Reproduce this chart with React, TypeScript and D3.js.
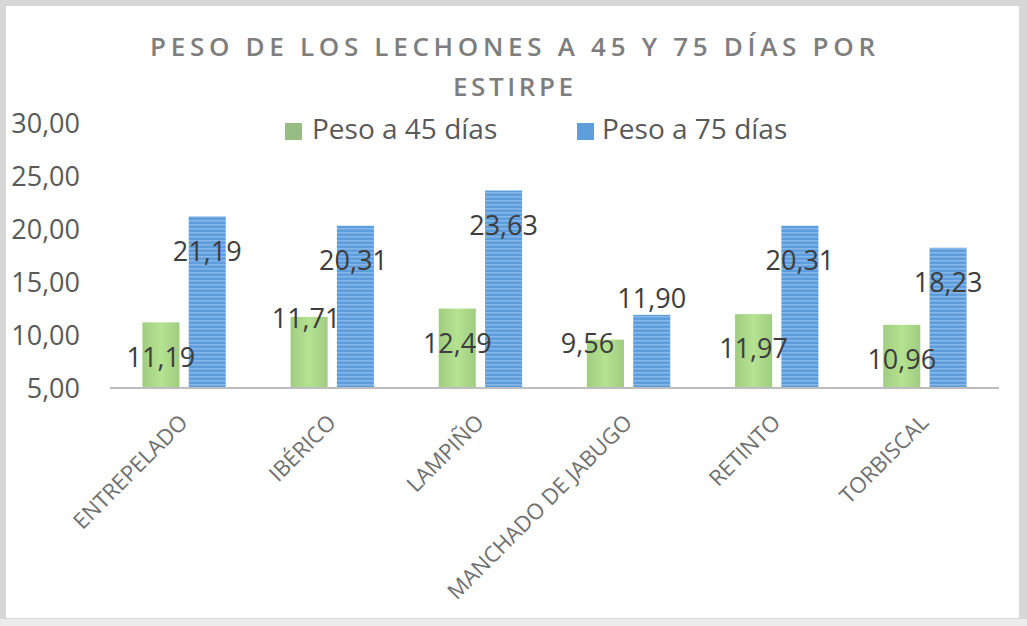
import React from "react";
import * as d3 from "d3";

const categories = ["ENTREPELADO", "IBÉRICO", "LAMPIÑO", "MANCHADO DE JABUGO", "RETINTO", "TORBISCAL"];
const peso45 = [11.19, 11.71, 12.49, 9.56, 11.97, 10.96];
const peso75 = [21.19, 20.31, 23.63, 11.9, 20.31, 18.23];
const seriesNames = ["Peso a 45 días", "Peso a 75 días"];
const yTicks = [5, 10, 15, 20, 25, 30];
const titleLines = ["PESO DE LOS LECHONES A 45 Y 75 DÍAS POR", "ESTIRPE"];

// layout-only nudges for the hand-placed data labels (px)
const nudge45: [number, number][] = [[0, 0], [-3, -33], [0, 0], [-18, -31], [0, 0], [0, 0]];
const nudge75: [number, number][] = [[0, 0], [-2, 0], [0, 0], [0, -51], [0, 0], [0, 0]];

const W = 1027;
const H = 626;
const FONT = "'Open Sans', 'Noto Sans', sans-serif";

export default function App() {
  const x = d3.scaleBand<string>().domain(categories).range([110, 999]).paddingInner(0).paddingOuter(0);
  const x1 = d3
    .scaleBand<string>()
    .domain(seriesNames)
    .range([0, x.bandwidth()])
    .paddingInner(0.2)
    .paddingOuter(0.7);
  const y = d3.scaleLinear().domain([5, 30]).range([388, 123]);
  const fmt = (v: number) => d3.format(".2f")(v).replace(".", ",");

  const series = [
    { name: seriesNames[0], values: peso45, fill: "url(#greenGrad)", nudge: nudge45 },
    { name: seriesNames[1], values: peso75, fill: "url(#blueStripes)", nudge: nudge75 },
  ];

  return (
    <svg
      width={W}
      height={H}
      style={{ position: "absolute", left: 0, top: 0, display: "block" }}
      xmlns="http://www.w3.org/2000/svg"
    >
      <defs>
        <linearGradient id="greenGrad" x1="0" x2="1" y1="0" y2="0">
          <stop offset="0%" stopColor="#9fcc80" />
          <stop offset="50%" stopColor="#b6e391" />
          <stop offset="100%" stopColor="#9fcc80" />
        </linearGradient>
        <pattern id="blueStripes" width="4" height="4" patternUnits="userSpaceOnUse">
          <rect width="4" height="4" fill="#5d9ddc" />
          <rect width="4" height="1.5" fill="#86b7e8" />
        </pattern>
      </defs>
      <rect x={0} y={0} width={W} height={H} fill="#d7d7d7" />
      <rect x={0} y={619} width={W} height={7} fill="#ececec" />
      <rect x={6} y={6} width={1013} height={612} fill="#ffffff" />

      {/* title */}
      <text
        x={512.5}
        y={56}
        textAnchor="middle"
        fontFamily={FONT}
        fontSize={26}
        fontWeight={600}
        fill="#7e7e7e"
        textLength={725}
        lengthAdjust="spacing"
      >
        {titleLines[0]}
      </text>
      <text
        x={513}
        y={96}
        textAnchor="middle"
        fontFamily={FONT}
        fontSize={26}
        fontWeight={600}
        fill="#7e7e7e"
        textLength={120}
        lengthAdjust="spacing"
      >
        {titleLines[1]}
      </text>

      {/* legend */}
      <rect x={285} y={123} width={17} height={17} fill="#97bd84" />
      <text x={312} y={139} fontFamily={FONT} fontSize={28} fill="#595959">
        {seriesNames[0]}
      </text>
      <rect x={577} y={123} width={17} height={17} fill="#5f9ddb" />
      <text x={602} y={139} fontFamily={FONT} fontSize={28} fill="#595959">
        {seriesNames[1]}
      </text>

      {/* y axis labels */}
      {yTicks.map((t) => (
        <text
          key={t}
          x={80}
          y={y(t)}
          dy="0.36em"
          textAnchor="end"
          fontFamily={FONT}
          fontSize={27}
          fill="#595959"
        >
          {fmt(t)}
        </text>
      ))}

      {/* bars */}
      {series.map((s) => (
        <g key={s.name}>
          {categories.map((c, i) => {
            const bx = (x(c) as number) + (x1(s.name) as number);
            const by = y(s.values[i]);
            return (
              <rect
                key={c}
                x={bx}
                y={by}
                width={x1.bandwidth()}
                height={y(5) - by}
                fill={s.fill}
              />
            );
          })}
        </g>
      ))}

      {/* axis line */}
      <line x1={110} x2={999} y1={y(5)} y2={y(5)} stroke="#bdbdbd" strokeWidth={2} />

      {/* data labels */}
      {series.map((s) => (
        <g key={s.name + "-lbl"}>
          {categories.map((c, i) => {
            const cx = (x(c) as number) + (x1(s.name) as number) + x1.bandwidth() / 2;
            const cy = y(s.values[i]) + 34.5;
            return (
              <text
                key={c}
                x={cx + s.nudge[i][0]}
                y={cy + s.nudge[i][1]}
                dy="0.36em"
                textAnchor="middle"
                fontFamily={FONT}
                fontSize={27}
                fill="#3d3d3d"
              >
                {fmt(s.values[i])}
              </text>
            );
          })}
        </g>
      ))}

      {/* x axis labels */}
      {categories.map((c) => {
        const cx = (x(c) as number) + x.bandwidth() / 2;
        return (
          <text
            key={c}
            transform={`translate(${cx + 5},${y(5) + 36}) rotate(-45)`}
            textAnchor="end"
            fontFamily={FONT}
            fontSize={22}
            fill="#707070"
          >
            {c}
          </text>
        );
      })}
    </svg>
  );
}
